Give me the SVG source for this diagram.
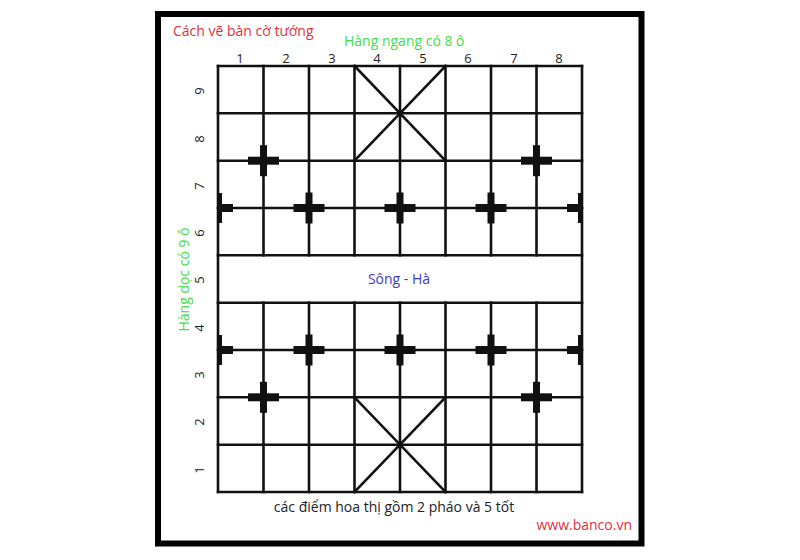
<svg xmlns="http://www.w3.org/2000/svg" xmlns:xlink="http://www.w3.org/1999/xlink" width="800" height="560" viewBox="0 0 800 560">
<style>
.frame{fill:#fff;stroke:#000;stroke-width:6}
.grid line{stroke:#111;stroke-width:2.6;stroke-linecap:square}
.num{font-family:"Open Sans","Liberation Sans",sans-serif;font-size:13px;fill:#222;text-anchor:middle}
.t{font-family:"Open Sans","Liberation Sans",sans-serif;font-size:14px}
.mark{fill:#111}
</style>
<defs>
<g id="plus"><rect x="-15.5" y="-4" width="31" height="8"/><rect x="-3.5" y="-15.5" width="7" height="31"/></g>
<g id="halfL"><rect x="0" y="-15" width="4" height="30"/><rect x="0" y="-4" width="15" height="8"/></g>
<g id="halfR"><rect x="-4" y="-15" width="4" height="30"/><rect x="-15" y="-4" width="15" height="8"/></g>
</defs>
<rect width="800" height="560" fill="#fff"/>
<rect class="frame" x="158" y="14" width="483.5" height="529.5"/>

<g id="title"><text class="t" x="173" y="36" fill="#e0303c">Cách vẽ bàn cờ tướng</text></g>
<g id="label-ngang"><text class="t" x="344" y="46" font-size="13.5" fill="#44dd44">Hàng ngang có 8 ô</text></g>
<g id="label-doc"><text class="t" transform="translate(189,279.5) rotate(-90)" text-anchor="middle" fill="#44dd44">Hàng dọc có 9 ô</text></g>

<g id="col-numbers">
<text class="num" x="240" y="63">1</text>
<text class="num" x="286" y="63">2</text>
<text class="num" x="332" y="63">3</text>
<text class="num" x="377" y="63">4</text>
<text class="num" x="423" y="63">5</text>
<text class="num" x="468" y="63">6</text>
<text class="num" x="514" y="63">7</text>
<text class="num" x="559" y="63">8</text>
</g>
<g id="row-numbers">
<text class="num" transform="translate(203.5,91) rotate(-90)">9</text>
<text class="num" transform="translate(203.5,139) rotate(-90)">8</text>
<text class="num" transform="translate(203.5,186) rotate(-90)">7</text>
<text class="num" transform="translate(203.5,233) rotate(-90)">6</text>
<text class="num" transform="translate(203.5,280) rotate(-90)">5</text>
<text class="num" transform="translate(203.5,328) rotate(-90)">4</text>
<text class="num" transform="translate(203.5,375) rotate(-90)">3</text>
<text class="num" transform="translate(203.5,422) rotate(-90)">2</text>
<text class="num" transform="translate(203.5,470) rotate(-90)">1</text>
</g>

<g id="board" class="grid">
<line x1="218" y1="66" x2="582" y2="66"/>
<line x1="218" y1="113.3" x2="582" y2="113.3"/>
<line x1="218" y1="160.7" x2="582" y2="160.7"/>
<line x1="218" y1="208" x2="582" y2="208"/>
<line x1="218" y1="255.3" x2="582" y2="255.3"/>
<line x1="218" y1="302.7" x2="582" y2="302.7"/>
<line x1="218" y1="350" x2="582" y2="350"/>
<line x1="218" y1="397.3" x2="582" y2="397.3"/>
<line x1="218" y1="444.7" x2="582" y2="444.7"/>
<line x1="218" y1="492" x2="582" y2="492"/>
<line x1="218" y1="66" x2="218" y2="492"/>
<line x1="582" y1="66" x2="582" y2="492"/>
<line x1="263.5" y1="66" x2="263.5" y2="255.3"/>
<line x1="309" y1="66" x2="309" y2="255.3"/>
<line x1="354.5" y1="66" x2="354.5" y2="255.3"/>
<line x1="400" y1="66" x2="400" y2="255.3"/>
<line x1="445.5" y1="66" x2="445.5" y2="255.3"/>
<line x1="491" y1="66" x2="491" y2="255.3"/>
<line x1="536.5" y1="66" x2="536.5" y2="255.3"/>
<line x1="263.5" y1="302.7" x2="263.5" y2="492"/>
<line x1="309" y1="302.7" x2="309" y2="492"/>
<line x1="354.5" y1="302.7" x2="354.5" y2="492"/>
<line x1="400" y1="302.7" x2="400" y2="492"/>
<line x1="445.5" y1="302.7" x2="445.5" y2="492"/>
<line x1="491" y1="302.7" x2="491" y2="492"/>
<line x1="536.5" y1="302.7" x2="536.5" y2="492"/>
<line x1="354.5" y1="66" x2="445.5" y2="160.7"/>
<line x1="445.5" y1="66" x2="354.5" y2="160.7"/>
<line x1="354.5" y1="397.3" x2="445.5" y2="492"/>
<line x1="445.5" y1="397.3" x2="354.5" y2="492"/>
</g>

<g id="marks" class="mark">
<use xlink:href="#plus" href="#plus" x="263.5" y="160.7"/>
<use xlink:href="#plus" href="#plus" x="536.5" y="160.7"/>
<use xlink:href="#halfL" href="#halfL" x="218" y="208"/>
<use xlink:href="#plus" href="#plus" x="309" y="208"/>
<use xlink:href="#plus" href="#plus" x="400" y="208"/>
<use xlink:href="#plus" href="#plus" x="491" y="208"/>
<use xlink:href="#halfR" href="#halfR" x="582" y="208"/>
<use xlink:href="#halfL" href="#halfL" x="218" y="350"/>
<use xlink:href="#plus" href="#plus" x="309" y="350"/>
<use xlink:href="#plus" href="#plus" x="400" y="350"/>
<use xlink:href="#plus" href="#plus" x="491" y="350"/>
<use xlink:href="#halfR" href="#halfR" x="582" y="350"/>
<use xlink:href="#plus" href="#plus" x="263.5" y="397.3"/>
<use xlink:href="#plus" href="#plus" x="536.5" y="397.3"/>
</g>

<g id="river"><text class="t" x="399" y="284" text-anchor="middle" font-size="15" fill="#3c3cb4">Sông - Hà</text></g>
<g id="caption"><text class="t" x="394" y="512" text-anchor="middle" font-size="13.5" fill="#222">các điểm hoa thị gồm 2 pháo và 5 tốt</text></g>
<g id="website"><text class="t" x="632" y="530" text-anchor="end" fill="#e0303c">www.banco.vn</text></g>
</svg>
